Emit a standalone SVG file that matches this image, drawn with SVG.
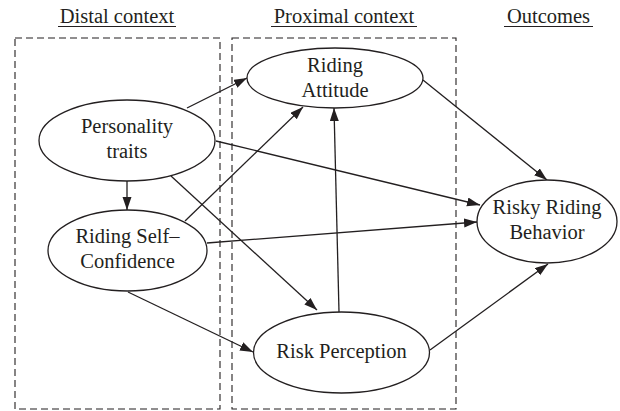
<svg xmlns="http://www.w3.org/2000/svg" width="620" height="411" viewBox="0 0 620 411">
<style>
text{font-family:"Liberation Serif","Times New Roman",serif;font-size:20.5px;fill:#231f20;text-anchor:middle}
.box{fill:none;stroke:#231f20;stroke-width:1.1;stroke-dasharray:7 4}
.node{fill:#fff;stroke:#231f20;stroke-width:1.3}
.edge{fill:none;stroke:#231f20;stroke-width:1.3;marker-end:url(#arr)}
.ul{stroke:#231f20;stroke-width:1}
</style>
<defs>
<marker id="arr" markerUnits="userSpaceOnUse" markerWidth="14" markerHeight="10" refX="13" refY="4.5" orient="auto">
<path d="M0,0 L13,4.5 L0,9 z" fill="#231f20"/>
</marker>
</defs>
<g id="headers">
<text x="117" y="23">Distal context</text>
<line class="ul" x1="58" y1="26.5" x2="176" y2="26.5"/>
<text x="344" y="23">Proximal context</text>
<line class="ul" x1="271" y1="26.5" x2="417" y2="26.5"/>
<text x="548.5" y="23">Outcomes</text>
<line class="ul" x1="504" y1="26.5" x2="593" y2="26.5"/>
</g>
<g id="contexts">
<rect class="box" x="15" y="38" width="205" height="371"/>
<rect class="box" x="232" y="38" width="224" height="371"/>
</g>
<g id="connectors">
<line class="edge" x1="127" y1="181" x2="127" y2="210"/>
<line class="edge" x1="187" y1="108" x2="247" y2="78"/>
<line class="edge" x1="216" y1="141" x2="480" y2="205"/>
<line class="edge" x1="171" y1="176" x2="317" y2="310"/>
<line class="edge" x1="185" y1="221" x2="303" y2="107"/>
<line class="edge" x1="207" y1="243" x2="477" y2="222"/>
<line class="edge" x1="128" y1="292" x2="253" y2="352"/>
<line class="edge" x1="339" y1="312" x2="334" y2="108"/>
<line class="edge" x1="423" y1="80" x2="547" y2="180"/>
<line class="edge" x1="430" y1="350" x2="548" y2="264"/>
</g>
<g id="riding-attitude">
<ellipse class="node" cx="335" cy="78" rx="88" ry="30"/>
<text x="335" y="72">Riding</text>
<text x="335" y="97">Attitude</text>
</g>
<g id="personality-traits">
<ellipse class="node" cx="127" cy="140.5" rx="88" ry="40.5"/>
<text x="127" y="133">Personality</text>
<text x="127" y="158">traits</text>
</g>
<g id="riding-self-confidence">
<ellipse class="node" cx="127.5" cy="250.5" rx="79.5" ry="40.5"/>
<text x="127.5" y="243">Riding Self–</text>
<text x="127.5" y="268">Confidence</text>
</g>
<g id="risk-perception">
<ellipse class="node" cx="341.5" cy="352.5" rx="88" ry="40.5"/>
<text x="341.5" y="358">Risk Perception</text>
</g>
<g id="risky-riding-behavior">
<ellipse class="node" cx="547" cy="221.5" rx="70" ry="41.5"/>
<text x="547" y="214">Risky Riding</text>
<text x="547" y="239">Behavior</text>
</g>
</svg>
